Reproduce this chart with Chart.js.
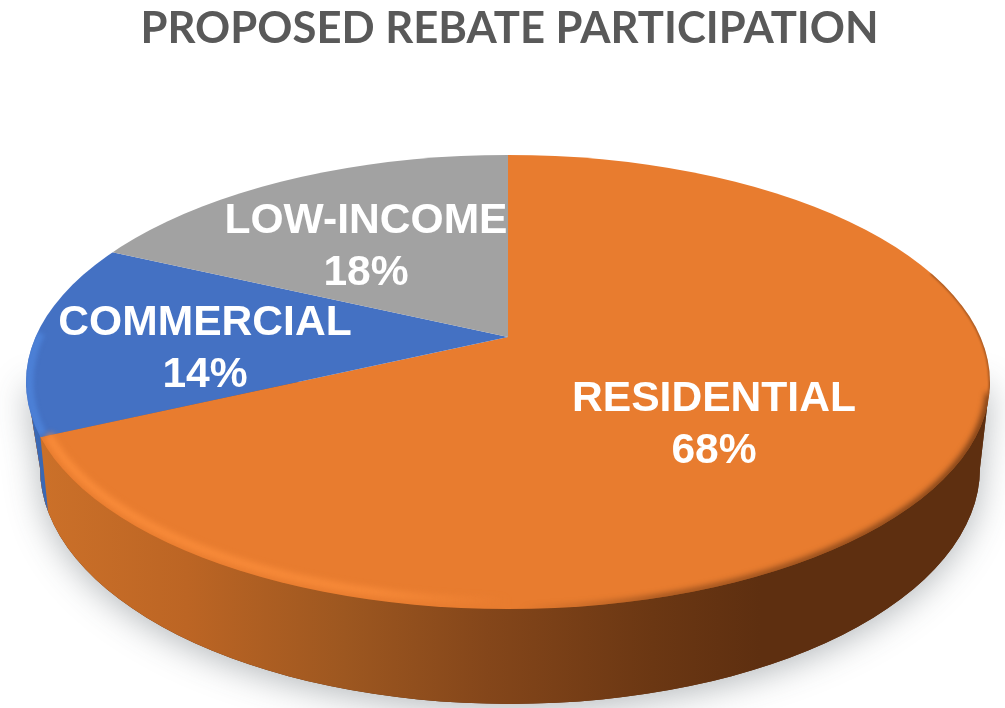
<!DOCTYPE html>
<html>
<head>
<meta charset="utf-8">
<title>Proposed Rebate Participation</title>
<script src="https://cdn.jsdelivr.net/npm/chart.js@4/dist/chart.umd.js"></script>
<style>
  html, body { margin: 0; padding: 0; background: #fff; }
  canvas { display: block; }
</style>
</head>
<body>
<canvas id="pie" width="1005" height="708"></canvas>
<script>
/* ---------- DATA ---------- */

const chartTitle = "PROPOSED REBATE PARTICIPATION";
const categories = ["RESIDENTIAL", "COMMERCIAL", "LOW-INCOME"];
const shares = [68, 14, 18];
const sliceColors = ["#E87C2F", "#4471C3", "#A2A2A2"];

/* ---------- LAYOUT ---------- */

// where the tilted disc sits on the page
const apex = { x: 508, y: 337 };
const rim = { x: 508, y: 382, rx: 482, ry: 227 };
const base = { x: 510, y: 468, rx: 470, ry: 236 };
const tilt = 0.455;
const labelSpots = [
  { x: 714, y: 399 },
  { x: 205, y: 323 },
  { x: 366, y: 221 }
];

/* ---------- HELPERS ---------- */

// where a slice edge leaving the apex meets the rim ellipse
function rimPoint(angle) {
  const dx = Math.cos(angle);
  const dy = Math.sin(angle) * tilt;
  const ox = apex.x - rim.x;
  const oy = apex.y - rim.y;
  const a = (dx * dx) / (rim.rx * rim.rx) + (dy * dy) / (rim.ry * rim.ry);
  const b = 2 * ((ox * dx) / (rim.rx * rim.rx) + (oy * dy) / (rim.ry * rim.ry));
  const c = (ox * ox) / (rim.rx * rim.rx) + (oy * oy) / (rim.ry * rim.ry) - 1;
  const t = (-b + Math.sqrt(b * b - 4 * a * c)) / (2 * a);
  return { x: apex.x + dx * t, y: apex.y + dy * t };
}

function rimParam(p) {
  const t = Math.atan2((p.y - rim.y) / rim.ry, (p.x - rim.x) / rim.rx);
  return t < 0 ? t + Math.PI * 2 : t;
}

function wallPath(ctx) {
  ctx.beginPath();
  ctx.moveTo(rim.x + rim.rx, rim.y);
  ctx.lineTo(base.x + base.rx, base.y);
  ctx.ellipse(base.x, base.y, base.rx, base.ry, 0, 0, Math.PI);
  ctx.lineTo(rim.x - rim.rx, rim.y);
  ctx.closePath();
}

function drawWall(ctx, edge) {
  // soft shadow under the disc
  ctx.save();
  ctx.shadowColor = "rgba(60,70,80,0.38)";
  ctx.shadowBlur = 34;
  ctx.shadowOffsetY = 6;
  wallPath(ctx);
  ctx.fillStyle = "#5E2F10";
  ctx.fill();
  ctx.restore();

  const shade = ctx.createLinearGradient(44, 0, 760, 0);
  shade.addColorStop(0, "#CB7029");
  shade.addColorStop(0.2, "#BC6524");
  shade.addColorStop(0.42, "#9D5720");
  shade.addColorStop(0.62, "#84461A");
  shade.addColorStop(0.85, "#6B3713");
  shade.addColorStop(1, "#5E2F10");
  wallPath(ctx);
  ctx.fillStyle = shade;
  ctx.fill();

  // the bit of the next slice still visible round the left side
  ctx.save();
  ctx.beginPath();
  ctx.moveTo(edge.x, edge.y);
  ctx.lineTo(edge.x + 9, edge.y + 88);
  ctx.lineTo(0, edge.y + 88);
  ctx.lineTo(0, rim.y - 10);
  ctx.lineTo(edge.x, rim.y - 10);
  ctx.closePath();
  ctx.clip();
  wallPath(ctx);
  ctx.fillStyle = "#3A68B4";
  ctx.fill();
  ctx.restore();
}

function drawBevel(ctx, edge) {
  const split = rimParam(edge);
  ctx.save();
  ctx.beginPath();
  ctx.ellipse(rim.x, rim.y, rim.rx, rim.ry, 0, 0, Math.PI * 2);
  ctx.clip();

  // thin dark line up the right side
  ctx.filter = "blur(1px)";
  ctx.strokeStyle = "rgba(70,35,12,0.55)";
  ctx.lineWidth = 2;
  ctx.beginPath();
  ctx.ellipse(rim.x, rim.y, rim.rx, rim.ry, 0, -0.5, 0.05);
  ctx.stroke();

  // dark soft rim where the top meets the wall
  ctx.filter = "blur(3px)";
  const dark = ctx.createLinearGradient(520, 0, 990, 0);
  dark.addColorStop(0, "rgba(94,47,16,0)");
  dark.addColorStop(0.3, "rgba(94,47,16,0.6)");
  dark.addColorStop(1, "rgba(80,40,14,0.9)");
  ctx.strokeStyle = dark;
  ctx.lineWidth = 6;
  ctx.beginPath();
  ctx.ellipse(rim.x, rim.y, rim.rx, rim.ry, 0, 0.05, Math.PI / 2);
  ctx.stroke();

  // light rim on the lower left
  const light = ctx.createLinearGradient(44, 0, 510, 0);
  light.addColorStop(0, "rgba(250,140,58,1)");
  light.addColorStop(0.7, "rgba(250,140,58,0.85)");
  light.addColorStop(1, "rgba(250,140,58,0)");
  ctx.strokeStyle = light;
  ctx.lineWidth = 8;
  ctx.beginPath();
  ctx.ellipse(rim.x, rim.y, rim.rx - 8, rim.ry - 8, 0, Math.PI / 2, split);
  ctx.stroke();

  ctx.filter = "blur(2px)";
  ctx.strokeStyle = "#4C80D6";
  ctx.lineWidth = 9;
  ctx.beginPath();
  ctx.ellipse(rim.x, rim.y, rim.rx - 3, rim.ry - 3, 0, split + 0.01, Math.PI + 0.22);
  ctx.stroke();
  ctx.restore();
}

/* ---------- DISC PLUGIN ---------- */

const tiltedDisc = {
  id: "tiltedDisc",
  beforeDatasetsDraw(chart) {
    const ctx = chart.ctx;
    const arcs = chart.getDatasetMeta(0).data;
    const edge = rimPoint(arcs[0].endAngle);
    drawWall(ctx, edge);

    // squash the round pie into the rim ellipse
    ctx.save();
    ctx.beginPath();
    ctx.ellipse(rim.x, rim.y, rim.rx, rim.ry, 0, 0, Math.PI * 2);
    ctx.clip();
    ctx.translate(apex.x, apex.y);
    ctx.scale(1, tilt);
    ctx.translate(-arcs[0].x, -arcs[0].y);
  },
  afterDatasetsDraw(chart) {
    const ctx = chart.ctx;
    const arcs = chart.getDatasetMeta(0).data;
    ctx.restore();
    drawBevel(ctx, rimPoint(arcs[0].endAngle));

    ctx.save();
    ctx.fillStyle = "#fff";
    ctx.font = "bold 42.6px 'Liberation Sans', Arial, sans-serif";
    ctx.textAlign = "center";
    ctx.textBaseline = "middle";
    categories.forEach((name, i) => {
      ctx.fillText(name, labelSpots[i].x, labelSpots[i].y);
      ctx.fillText(shares[i] + "%", labelSpots[i].x, labelSpots[i].y + 52);
    });
    ctx.restore();
  }
};

/* ---------- INIT ---------- */

new Chart(document.getElementById("pie").getContext("2d"), {
  type: "pie",
  data: {
    labels: categories,
    datasets: [
      {
        data: shares,
        backgroundColor: sliceColors,
        borderWidth: 0,
        radius: 1300,
        clip: false
      }
    ]
  },
  options: {
    responsive: false,
    animation: false,
    devicePixelRatio: 1,
    layout: { padding: { left: 14 } },
    plugins: {
      legend: { display: false },
      tooltip: { enabled: false },
      title: {
        display: true,
        text: chartTitle,
        color: "#595959",
        font: { family: "Lato, 'Open Sans', sans-serif", size: 43.6, weight: "bold" },
        padding: { top: 3, bottom: 0 }
      }
    }
  },
  plugins: [tiltedDisc]
});
</script>
</body>
</html>
